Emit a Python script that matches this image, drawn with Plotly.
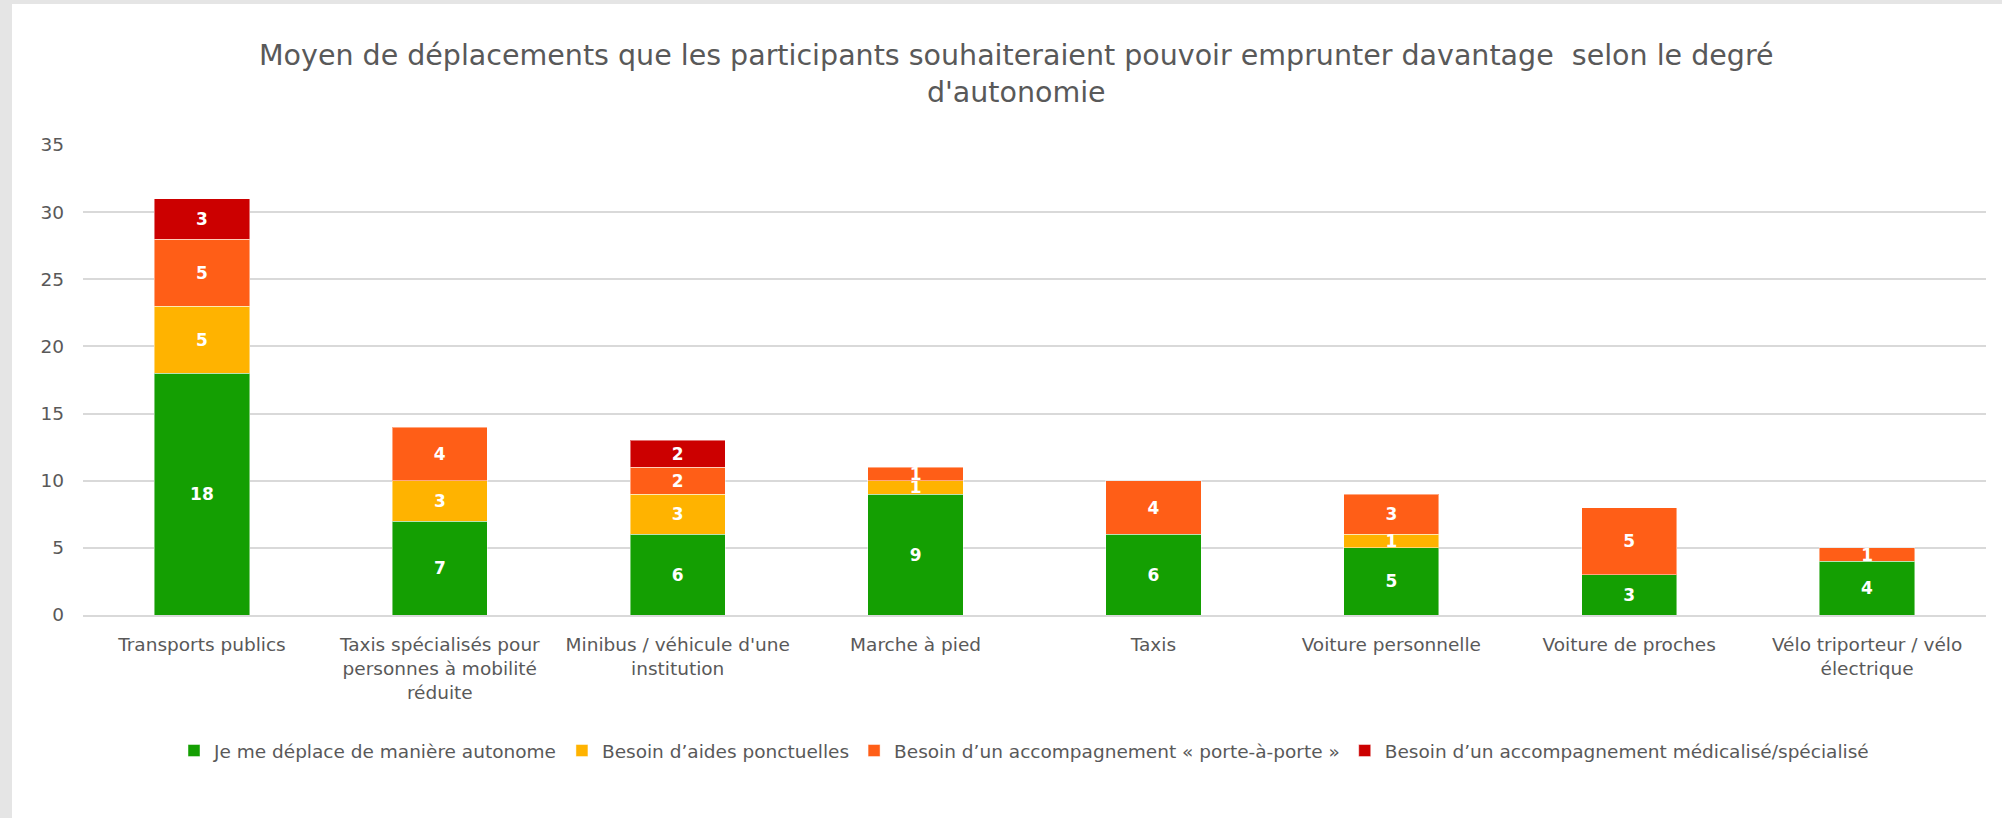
import plotly.graph_objects as go

categories = [
    "Transports publics",
    "Taxis spécialisés pour<br>personnes à mobilité<br>réduite",
    "Minibus / véhicule d'une<br>institution",
    "Marche à pied",
    "Taxis",
    "Voiture personnelle",
    "Voiture de proches",
    "Vélo triporteur / vélo<br>électrique",
]

series_names = [
    "Je me déplace de manière autonome",
    "Besoin d’aides ponctuelles",
    "Besoin d’un accompagnement « porte-à-porte »",
    "Besoin d’un accompagnement médicalisé/spécialisé",
]

autonome = [18, 7, 6, 9, 6, 5, 3, 4]
aides_ponctuelles = [5, 3, 3, 1, 0, 1, 0, 0]
porte_a_porte = [5, 4, 2, 1, 4, 3, 5, 1]
medicalise = [3, 0, 2, 0, 0, 0, 0, 0]

colors = ["#149F02", "#FFB300", "#FF5E17", "#CC0000"]

title_text = ("Moyen de déplacements que les participants souhaiteraient pouvoir emprunter davantage  selon le degré"
              "<br>d'autonomie")

FONT = "DejaVu Sans"
GREY = "#595959"

W, H = 2002, 818
L, R, T, B = 83, 2002 - 1986, 145, 818 - 615
plot_w = W - L - R
plot_h = H - T - B


def px_x(p):
    return (p - L) / plot_w


def px_y(p):
    return (H - B - p) / plot_h


fig = go.Figure()
for name, vals, col in zip(series_names, [autonome, aides_ponctuelles, porte_a_porte, medicalise], colors):
    fig.add_trace(go.Bar(
        name=name,
        x=categories,
        y=[v if v else None for v in vals],
        text=[str(v) if v else "" for v in vals],
        textposition="inside",
        insidetextanchor="middle",
        textangle=0,
        textfont=dict(color="white", size=17, family=FONT, weight="bold"),
        marker=dict(color=col, line=dict(color="rgba(255,255,255,0.45)", width=1)),
        hoverinfo="skip",
    ))

fig.update_layout(
    width=W, height=H,
    barmode="stack",
    bargap=0.6,
    paper_bgcolor="#E5E5E5",
    plot_bgcolor="rgba(0,0,0,0)",
    margin=dict(l=L, r=R, t=T, b=B, pad=0),
    font=dict(family=FONT, color=GREY, size=18),
    uniformtext=dict(minsize=17, mode="show"),
    showlegend=True,
    legend=dict(
        orientation="h",
        traceorder="normal",
        x=px_x(1024), xanchor="center",
        y=px_y(751), yanchor="middle",
        font=dict(family=FONT, size=18.5, color=GREY),
        bgcolor="rgba(0,0,0,0)",
        itemclick=False, itemdoubleclick=False,
    ),
    shapes=[dict(
        type="rect", xref="paper", yref="paper", layer="below",
        x0=px_x(12), x1=px_x(W + 5), y0=px_y(H + 5), y1=px_y(4),
        fillcolor="white", line=dict(width=0),
    )],
    annotations=[dict(
        text=title_text, xref="paper", yref="paper",
        x=px_x(1016), y=px_y(73.5), xanchor="center", yanchor="middle",
        showarrow=False, align="center",
        font=dict(family=FONT, size=28.5, color=GREY),
    )],
)

fig.update_xaxes(
    showgrid=False, showline=True, linecolor="#D9D9D9", linewidth=2,
    ticks="", tickfont=dict(family=FONT, size=18.5, color=GREY),
    ticklabelstandoff=12,
)
fig.update_yaxes(
    range=[0, 35], dtick=5, showgrid=True, gridcolor="#D9D9D9", gridwidth=2,
    zeroline=False, showline=False, ticks="",
    tickfont=dict(family=FONT, size=18.5, color=GREY),
    ticklabelstandoff=18,
)

fig.write_html("out.html", config={"displayModeBar": False},
               post_script="document.body.style.margin='0';")
